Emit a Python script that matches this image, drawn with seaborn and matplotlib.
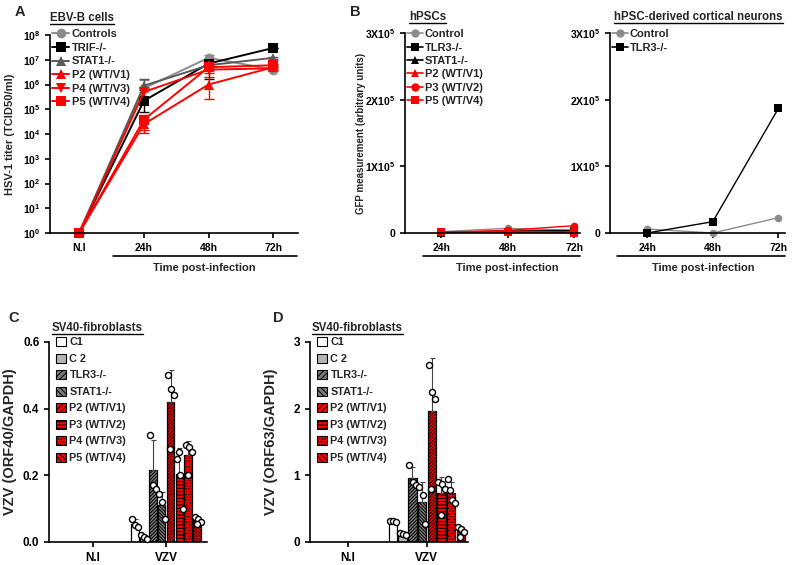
import numpy as np
import pandas as pd
import matplotlib
matplotlib.use("Agg")
import matplotlib.pyplot as plt
import seaborn as sns
from matplotlib.lines import Line2D
from matplotlib.patches import Patch

# ---------------- Panel A data (EBV-B cells, HSV-1 titer) ----------------
timepoints_A = ["N.I", "24h", "48h", "72h"]
groups_A = ["Controls", "TRIF-/-", "STAT1-/-", "P2 (WT/V1)", "P4 (WT/V3)", "P5 (WT/V4)"]
controls_A = [1, 7e5, 1.2e7, 4e6]
trif_A = [1, 2.2e5, 7e6, 3e7]
stat1_A = [1, 9e5, 6e6, 1.2e7]
p2_A = [1, 2.5e4, 1.0e6, 5e6]
p4_A = [1, 5e5, 4e6, 4.5e6]
p5_A = [1, 3.8e4, 5e6, 6e6]
controls_A_lo = [1, 5e5, 1.0e7, 3.5e6]
controls_A_hi = [1, 1.5e6, 1.6e7, 4.5e6]
trif_A_lo = [1, 8e4, 1.6e6, 3e7]
trif_A_hi = [1, 3e5, 8e6, 3e7]
stat1_A_lo = [1, 7e5, 5e6, 1.1e7]
stat1_A_hi = [1, 1.6e6, 7e6, 1.3e7]
p2_A_lo = [1, 1.1e4, 2.7e5, 4e6]
p2_A_hi = [1, 4e4, 2e6, 6e6]
p4_A_lo = [1, 3e5, 3e6, 4e6]
p4_A_hi = [1, 7e5, 5e6, 5e6]
p5_A_lo = [1, 1.5e4, 4e6, 5e6]
p5_A_hi = [1, 6e4, 6e6, 7e6]

# ---------------- Panel B data (GFP) ----------------
timepoints_B = ["24h", "48h", "72h"]
groups_B1 = ["Control", "TLR3-/-", "STAT1-/-", "P2 (WT/V1)", "P3 (WT/V2)", "P5 (WT/V4)"]
hpsc_control = [2000, 7000, 4000]
hpsc_tlr3 = [500, 2000, 3000]
hpsc_stat1 = [500, 3000, 4000]
hpsc_p2 = [1000, 3000, 1000]
hpsc_p3 = [1000, 4000, 11000]
hpsc_p5 = [1000, 1500, 500]
groups_B2 = ["Control", "TLR3-/-"]
neuron_control = [6000, 0, 23000]
neuron_tlr3 = [0, 17000, 187000]

# ---------------- Panel C/D data (SV40-fibroblasts, VZV) ----------------
conditions_CD = ["N.I", "VZV"]
groups_CD = ["C1", "C 2", "TLR3-/-", "STAT1-/-", "P2 (WT/V1)", "P3 (WT/V2)", "P4 (WT/V3)", "P5 (WT/V4)"]
c1_orf40 = [0.07, 0.05, 0.045]
c2_orf40 = [0.02, 0.015, 0.01]
tlr3_orf40 = [0.32, 0.17, 0.16]
stat1_orf40 = [0.145, 0.12, 0.07]
p2_orf40 = [0.50, 0.46, 0.44, 0.28]
p3_orf40 = [0.25, 0.20, 0.10, 0.27]
p4_orf40 = [0.29, 0.285, 0.27, 0.20]
p5_orf40 = [0.075, 0.07, 0.06, 0.055]
c1_orf63 = [0.32, 0.31, 0.30]
c2_orf63 = [0.13, 0.12, 0.10]
tlr3_orf63 = [1.15, 0.90, 0.85]
stat1_orf63 = [0.83, 0.70, 0.27]
p2_orf63 = [2.65, 2.25, 2.15, 0.80]
p3_orf63 = [0.90, 0.87, 0.80, 0.40]
p4_orf63 = [0.95, 0.63, 0.58, 0.78]
p5_orf63 = [0.22, 0.20, 0.15, 0.08]

# ---------------- style ----------------
sns.set_theme(style="ticks")
plt.rcParams['font.family'] = ['Liberation Sans', 'DejaVu Sans']
plt.rcParams['font.weight'] = 'bold'
plt.rcParams['axes.labelweight'] = 'bold'
plt.rcParams['mathtext.fontset'] = 'custom'
plt.rcParams['mathtext.rm'] = 'Liberation Sans:bold'
plt.rcParams['mathtext.it'] = 'Liberation Sans:bold'
plt.rcParams['mathtext.bf'] = 'Liberation Sans:bold'
plt.rcParams['hatch.linewidth'] = 0.7
plt.rcParams['axes.linewidth'] = 1.2
plt.rcParams['xtick.major.width'] = 1.2
plt.rcParams['ytick.major.width'] = 1.2
plt.rcParams['xtick.major.size'] = 3.5
plt.rcParams['ytick.major.size'] = 3.5
plt.rcParams['xtick.color'] = 'black'
plt.rcParams['ytick.color'] = 'black'
plt.rcParams['axes.edgecolor'] = 'black'

W, H = 800, 565
fig = plt.figure(figsize=(8, 5.65), dpi=100)


def px_axes(l, t, r, b):
    return fig.add_axes([l / W, 1 - b / H, (r - l) / W, (b - t) / H])


def clean(ax):
    for s in ["top", "right"]:
        ax.spines[s].set_visible(False)
    ax.tick_params(axis='both', colors='black', labelcolor='black')


RED = "#ff0000"

# ================= Panel A =================
axA = px_axes(50, 35, 298, 233)
seriesA = [controls_A, trif_A, stat1_A, p2_A, p4_A, p5_A]
losA = [controls_A_lo, trif_A_lo, stat1_A_lo, p2_A_lo, p4_A_lo, p5_A_lo]
hisA = [controls_A_hi, trif_A_hi, stat1_A_hi, p2_A_hi, p4_A_hi, p5_A_hi]
colorsA = ["#8c8c8c", "#000000", "#5a5a5a", RED, RED, RED]
markersA = ["o", "s", "^", "^", "v", "s"]
rows = []
for g, vals in zip(groups_A, seriesA):
    for i, v in enumerate(vals):
        rows.append(dict(group=g, pos=i, titer=v))
dfA = pd.DataFrame(rows)
axA.set_yscale('log')
for g, vals, lo, hi, c in zip(groups_A, seriesA, losA, hisA, colorsA):
    v = np.array(vals, float)
    axA.errorbar(np.arange(len(v)), v, yerr=[v - np.array(lo), np.array(hi) - v],
                 fmt='none', ecolor=c, elinewidth=1.0, capsize=3.5, capthick=1.0, clip_on=False)
sns.lineplot(data=dfA, x='pos', y='titer', hue='group', style='group',
             hue_order=groups_A, style_order=groups_A,
             palette=dict(zip(groups_A, colorsA)), markers=dict(zip(groups_A, markersA)),
             dashes=False, markersize=7, markeredgewidth=0, linewidth=1.4,
             legend=False, ax=axA, clip_on=False)
axA.set_xlim(-0.45, 3.38)
axA.set_ylim(1, 1e8)
axA.set_yticks([10.0 ** k for k in range(9)])
axA.yaxis.set_minor_locator(matplotlib.ticker.NullLocator())
axA.set_xticks(range(len(timepoints_A)))
axA.set_xticklabels(timepoints_A)
axA.tick_params(labelsize=7.5)
axA.set_xlabel("")
axA.set_ylabel("HSV-1 titer (TCID50/ml)", fontsize=8)
axA.yaxis.set_label_coords(-0.14, 0.5)
clean(axA)
hA = [Line2D([0], [0], color=c, marker=m, markersize=7, lw=1.4, mew=0)
      for c, m in zip(colorsA, markersA)]
axA.legend(hA, groups_A, loc='upper left', bbox_to_anchor=(0.0, 1.04), frameon=False,
           fontsize=8, handlelength=1.5, handletextpad=0.25, labelspacing=0.32,
           borderaxespad=0.1, borderpad=0.1)
trA = axA.get_xaxis_transform()
axA.plot([0.52, 3.37], [-0.117, -0.117], transform=trA, color='black', lw=1.2, clip_on=False)
axA.text(1.94, -0.175, "Time post-infection", transform=trA, ha='center', va='center', fontsize=8)

# ================= Panel B =================
def gfp_panel(ax, groups, series, colors, markers, xl, bracket, textx):
    rows = []
    for g, vals in zip(groups, series):
        for i, v in enumerate(vals):
            rows.append(dict(group=g, pos=i, gfp=v))
    df = pd.DataFrame(rows)
    sns.lineplot(data=df, x='pos', y='gfp', hue='group', style='group',
                 hue_order=groups, style_order=groups,
                 palette=dict(zip(groups, colors)), markers=dict(zip(groups, markers)),
                 dashes=False, markersize=5.5, markeredgewidth=0, linewidth=1.0,
                 legend=False, ax=ax, clip_on=False)
    ax.set_xlim(*xl)
    ax.set_ylim(0, 3e5)
    ax.set_yticks([0, 1e5, 2e5, 3e5])
    ax.set_yticklabels(["0", r"1X10$^{5}$", r"2X10$^{5}$", r"3X10$^{5}$"])
    ax.set_xticks(range(len(timepoints_B)))
    ax.set_xticklabels(timepoints_B)
    ax.tick_params(labelsize=7.5)
    ax.set_xlabel("")
    ax.set_ylabel("")
    clean(ax)
    h = [Line2D([0], [0], color=c, marker=m, markersize=6, lw=1.2, mew=0)
         for c, m in zip(colors, markers)]
    ax.legend(h, groups, loc='upper left', bbox_to_anchor=(0.0, 1.03), frameon=False,
              fontsize=8, handlelength=1.4, handletextpad=0.2, labelspacing=0.3,
              borderaxespad=0.1, borderpad=0.1)
    tr = ax.get_xaxis_transform()
    ax.plot(bracket, [-0.117, -0.117], transform=tr, color='black', lw=1.2, clip_on=False)
    ax.text(textx, -0.175, "Time post-infection", transform=tr, ha='center', va='center', fontsize=8)


axB1 = px_axes(405, 33, 580, 233)
gfp_panel(axB1, groups_B1,
          [hpsc_control, hpsc_tlr3, hpsc_stat1, hpsc_p2, hpsc_p3, hpsc_p5],
          ["#8c8c8c", "black", "black", RED, RED, RED],
          ["o", "s", "^", "^", "o", "s"], (-0.55, 2.09), [-0.28, 2.09], 1.0)
axB1.set_ylabel("GFP measurement (arbitrary units)", fontsize=7)
axB1.yaxis.set_label_coords(-0.22, 0.5)

axB2 = px_axes(610, 33, 785, 233)
gfp_panel(axB2, groups_B2, [neuron_control, neuron_tlr3],
          ["#8c8c8c", "black"], ["o", "s"], (-0.565, 2.1), [-0.46, 2.1], 0.85)

# ================= Panels C / D =================
fillsCD = ["white", "#b4b4b4", "#7a7a7a", "#7a7a7a", RED, RED, RED, RED]
hatchCD = [None, None, "//////////", "\\\\\\\\\\\\\\\\\\\\", "//////////", "-----", "......", "\\\\\\\\\\\\\\\\\\\\"]
offs = [-0.35, 0.05, 0.4, -0.1]


def bar_panel(ax, vals_list, xl, ymax, yticks, yfmt, ylabel):
    rows = []
    for g, vals in zip(groups_CD, vals_list):
        for v in vals:
            rows.append(dict(cond="VZV", group=g, val=v))
    df = pd.DataFrame(rows)
    sns.barplot(data=df, x='cond', y='val', hue='group', order=conditions_CD,
                hue_order=groups_CD, palette=dict(zip(groups_CD, fillsCD)),
                errorbar=None, width=0.98, gap=0.12, edgecolor='black', linewidth=0.9,
                saturation=1, legend=False, ax=ax)
    bars = sorted([p for p in ax.patches], key=lambda p: p.get_x())
    for p, h, vals in zip(bars, hatchCD, vals_list):
        if h:
            p.set_hatch(h)
        cx = p.get_x() + p.get_width() / 2
        bw = p.get_width()
        v = np.array(vals)
        ax.errorbar([cx], [v.mean()], yerr=[[0], [v.std(ddof=1)]], fmt='none',
                    ecolor='#444444', elinewidth=0.8, capsize=1.8, capthick=0.8, zorder=1.5)
        xs = [cx + offs[i % len(offs)] * bw for i in range(len(v))]
        ax.scatter(xs, v, s=19, facecolor='white', edgecolor='black', linewidth=1.0,
                   zorder=4, clip_on=False)
    ax.set_xlim(*xl)
    ax.set_ylim(0, ymax)
    ax.set_yticks(yticks)
    ax.set_yticklabels([yfmt.format(t) for t in yticks])
    ax.tick_params(labelsize=8.5)
    ax.set_xlabel("")
    ax.set_ylabel(ylabel, fontsize=10.5)
    clean(ax)
    hd = [Patch(facecolor=f, edgecolor='black', hatch=(h[:6] if h else None), linewidth=0.8)
          for f, h in zip(fillsCD, hatchCD)]
    ax.legend(hd, groups_CD, loc='upper left', bbox_to_anchor=(0.03, 1.035), frameon=False,
              fontsize=7.8, handlelength=0.9, handleheight=0.9, handletextpad=0.35,
              labelspacing=0.58, borderaxespad=0.1, borderpad=0.1)


axC = px_axes(49, 342, 207, 542)
bar_panel(axC, [c1_orf40, c2_orf40, tlr3_orf40, stat1_orf40, p2_orf40, p3_orf40, p4_orf40, p5_orf40],
          (-0.6, 1.56), 0.6, [0.0, 0.2, 0.4, 0.6], "{:.1f}", "VZV (ORF40/GAPDH)")
axC.yaxis.set_label_coords(-0.2, 0.5)

axD = px_axes(310, 342, 468, 542)
bar_panel(axD, [c1_orf63, c2_orf63, tlr3_orf63, stat1_orf63, p2_orf63, p3_orf63, p4_orf63, p5_orf63],
          (-0.48, 1.52), 3, [0, 1, 2, 3], "{:.0f}", "VZV (ORF63/GAPDH)")
axD.yaxis.set_label_coords(-0.2, 0.5)

# ================= Letters & titles =================
for s, x, y in [("A", 15, 12), ("B", 350, 12), ("C", 8, 318), ("D", 273, 318)]:
    fig.text(x / W, 1 - y / H, s, fontsize=10.5, fontweight='bold', ha='left', va='center')

titles = []
for s, x, y in [("EBV-B cells", 50, 18), ("hPSCs", 409, 17),
                ("hPSC-derived cortical neurons", 614, 17),
                ("SV40-fibroblasts", 52, 328), ("SV40-fibroblasts", 312, 328)]:
    titles.append(fig.text(x / W, 1 - y / H, s, fontsize=8.3, fontweight='bold',
                           ha='left', va='center'))
fig.canvas.draw()
r = fig.canvas.get_renderer()
inv = fig.transFigure.inverted()
for t in titles:
    bb = t.get_window_extent(r)
    (x0, y0) = inv.transform((bb.x0, bb.y0 + 0.5))
    (x1, _) = inv.transform((bb.x1, bb.y0 + 0.5))
    fig.add_artist(Line2D([x0, x1], [y0, y0], transform=fig.transFigure, color='black', lw=1.0))

fig.savefig("out.png", dpi=100)
